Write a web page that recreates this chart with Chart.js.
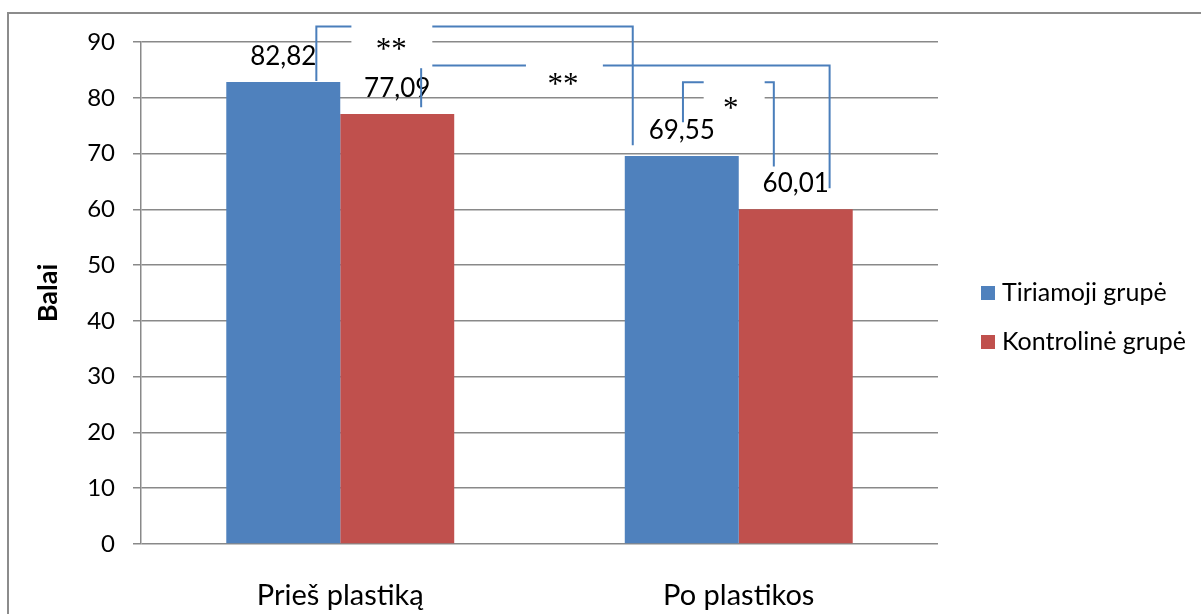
<!DOCTYPE html>
<html lang="lt">
<head>
  <meta charset="UTF-8" />
  <title>Balai</title>
  <script src="https://cdn.jsdelivr.net/npm/chart.js"></script>
  <style>
    body { margin: 0; background: #fff; }
    #wrap { width: 1201px; height: 614px; }
  </style>
</head>
<body>
  <div id="wrap">
    <canvas id="balaiChart" width="1201" height="614"></canvas>
  </div>

  <script>
    // data
    const categories = ['Prieš plastiką', 'Po plastikos'];
    const tiriamoji = [82.82, 69.55];
    const kontroline = [77.09, 60.01];
    const seriesNames = ['Tiriamoji grupė', 'Kontrolinė grupė'];
    const yTicks = [0, 10, 20, 30, 40, 50, 60, 70, 80, 90];

    // significance brackets: x in category units, y in score units
    const bracketX = [[-0.06, 0.734], [0.203, 1.228], [0.86, 1.088]];
    const bracketTop = [92.8, 85.8, 82.8];
    const bracketFeet = [[83.0, 71.5], [78.3, 63.8], [75.6, 67.7]];
    const starText = ['**', '**', '*'];
    const starPos = [[0.128, 89.7], [0.559, 83.4], [0.98, 79.1]];
    const starBox = [[0.028, 0.231, 94.3, 85.3], [0.466, 0.659, 86.8, 80.7], [0.912, 1.065, 83.9, 76.4]];

    const blue = '#4F81BD';
    const red = '#C0504D';
    const lineBlue = '#4A7EBB';
    const gridGray = '#898989';
    const fontName = 'Lato, "Open Sans", sans-serif';

    const fmt = v => v.toFixed(2).replace('.', ',');

    function xPix(chart, v) {
      const xs = chart.scales.x;
      const a = xs.getPixelForValue(0);
      const b = xs.getPixelForValue(1);
      return a + v * (b - a);
    }

    const frame = {
      id: 'frame',
      beforeDraw(chart) {
        const ctx = chart.ctx;
        ctx.save();
        ctx.fillStyle = '#fff';
        ctx.fillRect(0, 0, chart.width, chart.height);
        ctx.strokeStyle = '#8c8c8c';
        ctx.lineWidth = 2;
        ctx.beginPath();
        ctx.moveTo(8, chart.height);
        ctx.lineTo(8, 13);
        ctx.lineTo(chart.width, 13);
        ctx.stroke();
        ctx.restore();
      }
    };

    const valueLabels = {
      id: 'valueLabels',
      afterDatasetsDraw(chart) {
        const ctx = chart.ctx;
        ctx.save();
        ctx.font = '26px ' + fontName;
        ctx.fillStyle = '#000';
        ctx.textAlign = 'center';
        ctx.textBaseline = 'alphabetic';
        chart.data.datasets.forEach((ds, i) => {
          chart.getDatasetMeta(i).data.forEach((bar, j) => {
            ctx.fillText(fmt(ds.data[j]), bar.x, bar.y - 17);
          });
        });
        ctx.restore();
      }
    };

    const brackets = {
      id: 'brackets',
      afterDatasetsDraw(chart) {
        const ctx = chart.ctx;
        const ys = chart.scales.y;
        ctx.save();
        ctx.strokeStyle = lineBlue;
        ctx.lineWidth = 2;
        bracketX.forEach((bx, i) => {
          const x1 = xPix(chart, bx[0]);
          const x2 = xPix(chart, bx[1]);
          const yt = ys.getPixelForValue(bracketTop[i]);
          ctx.beginPath();
          ctx.moveTo(x1, ys.getPixelForValue(bracketFeet[i][0]));
          ctx.lineTo(x1, yt);
          ctx.lineTo(x2, yt);
          ctx.lineTo(x2, ys.getPixelForValue(bracketFeet[i][1]));
          ctx.stroke();
        });
        // white text boxes over lines
        ctx.fillStyle = '#fff';
        starBox.forEach(b => {
          const l = xPix(chart, b[0]);
          const r = xPix(chart, b[1]);
          const t = ys.getPixelForValue(b[2]);
          const bt = ys.getPixelForValue(b[3]);
          ctx.fillRect(l, t, r - l, bt - t);
        });
        ctx.fillStyle = '#000';
        ctx.font = '31px "Liberation Serif", "DejaVu Serif", serif';
        ctx.textAlign = 'center';
        ctx.textBaseline = 'alphabetic';
        starText.forEach((s, i) => {
          const m = ctx.measureText(s);
          const shift = (m.actualBoundingBoxAscent - m.actualBoundingBoxDescent) / 2;
          ctx.fillText(s, xPix(chart, starPos[i][0]), ys.getPixelForValue(starPos[i][1]) + shift);
        });
        ctx.restore();
      }
    };

    const sideLegend = {
      id: 'sideLegend',
      afterDraw(chart) {
        const ctx = chart.ctx;
        const area = chart.chartArea;
        const mid = (area.top + area.bottom) / 2;
        ctx.save();
        ctx.font = '25px ' + fontName;
        ctx.textBaseline = 'middle';
        ctx.textAlign = 'left';
        chart.data.datasets.forEach((ds, i) => {
          const y = mid + i * 49;
          ctx.fillStyle = ds.backgroundColor;
          ctx.fillRect(area.right + 43, y - 7, 14, 14);
          ctx.fillStyle = '#000';
          ctx.fillText(ds.label, area.right + 64, y);
        });
        ctx.restore();
      }
    };

    const ctx = document.getElementById('balaiChart').getContext('2d');
    const chart = new Chart(ctx, {
      type: 'bar',
      data: {
        labels: categories,
        datasets: [
          { label: seriesNames[0], data: tiriamoji, backgroundColor: blue },
          { label: seriesNames[1], data: kontroline, backgroundColor: red }
        ]
      },
      options: {
        responsive: false,
        animation: false,
        categoryPercentage: 0.572,
        barPercentage: 1,
        layout: { padding: { top: 42, right: 263, left: 0, bottom: 0 } },
        plugins: {
          legend: { display: false },
          tooltip: { enabled: false }
        },
        scales: {
          x: {
            grid: { display: false },
            border: { display: false },
            ticks: {
              color: '#000',
              padding: 26,
              font: { family: fontName, size: 29 }
            },
            afterFit(scale) { scale.height = 70; }
          },
          y: {
            min: 0,
            max: 90,
            afterBuildTicks(scale) { scale.ticks = yTicks.map(v => ({ value: v })); },
            grid: { color: gridGray, lineWidth: 1.5, tickLength: 8 },
            border: { display: true, color: gridGray, width: 1.5 },
            ticks: {
              color: '#000',
              padding: 18,
              font: { family: fontName, size: 24 }
            },
            title: {
              display: true,
              text: 'Balai',
              color: '#000',
              padding: { top: 32, bottom: 0 },
              font: { family: fontName, size: 27, weight: 'bold' }
            },
            afterFit(scale) { scale.width = 141; }
          }
        }
      },
      plugins: [frame, valueLabels, brackets, sideLegend]
    });
  </script>
</body>
</html>
